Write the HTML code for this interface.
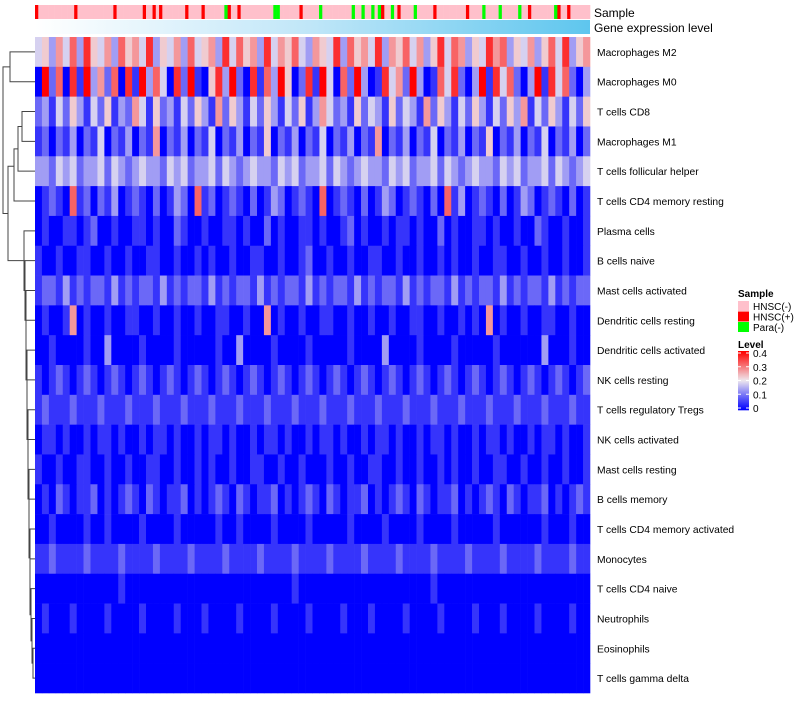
<!DOCTYPE html>
<html><head><meta charset="utf-8"><style>
body{margin:0;background:#fff;width:800px;height:700px;overflow:hidden;font-family:"Liberation Sans",sans-serif}
svg text{font-family:"Liberation Sans",sans-serif}
</style></head><body>
<svg id="c" width="800" height="700"></svg>
<script>
const rowNames=["Macrophages M2","Macrophages M0","T cells CD8","Macrophages M1","T cells follicular helper","T cells CD4 memory resting","Plasma cells","B cells naive","Mast cells activated","Dendritic cells resting","Dendritic cells activated","NK cells resting","T cells regulatory  Tregs","NK cells activated","Mast cells resting","B cells memory","T cells CD4 memory activated","Monocytes","T cells CD4 naive","Neutrophils","Eosinophils","T cells gamma delta"];
// digit d -> level d*0.045
const rowDigits=[
"45364738546375648354637456384756384657436548375648365746358476354867354635748356",
"09270819362708193740829105839208173950281940729301846293017482039184720391847203",
"23142531425132641523142531625314253142513642315243152431625314253142536142531425",
"12021302140213021602130214021302150213021402130216021302140213021502130214021302",
"33243423342432343324342334243234332434233424323433243423342432343324342334243234",
"01210712021301210201320712012102013201210701210201320121020713012102013201210201",
"01001101200100110100210010011010020100110100120100101101002010011010010021001001",
"10010011001001001100100101001001100100120010010011001001001010010011001001001001",
"12213121221312122131212213121221312122131212213121221312122131212213121221312122",
"01001601001001100100100100110010060100100110010010010011001001010601001001100100",
"00100001003000010000100000100300001000010000010000300001000010000010000003000100",
"10121012101210121012101210121012101210121012101210121012101210121012101210121012",
"12111211121112111211121112111211121112111211121112111211121112111211121112111211",
"01101001011010010110100101101001011010010110100101101001011010010110100101101001",
"10010011001001001100100101001001100100100010010011001001001010010011001001001001",
"01021011201012102101120101210210112010121021011201012102101120101210210112010121",
"00100001001000010000100000100100001000010000010000100001000010000010000001000100",
"11211112111121111211112111121111211112111121111211112111121111211112111121111211",
"00000000000010000000000000000000000001000000000000000000010000000000000000000000",
"01000100001000010000100010000100001000010000100010000100001000010001000010000100",
"00000000000000000000000000000000000000000000000000000000000000000000000000000000",
"00000000000000000000000000000000000000000000000000000000000000000000000000000000"];
// n=HNSC(-), p=HNSC(+), g=Para(-)
const sampleCodes="pnnnnnnnnnnnpnnnnnnnnnnnpnnnnnnnnpnnpnpnnnnnnnpnnnnpnnnnnngpnnpnnnnnnnnnnggnnnnnnpnnnnngnnnnnnnnngnngnngngpnngnpnnnngnnnnnpnnnnnnnnnpnnnngnnnngnnnnngnnpnnnnnnngpnnpnnnnnn";
const legendLevels=[0,0.1,0.2,0.3,0.4];
const sampleColors={n:"#FFC0CB",p:"#FF0000",g:"#00FF00"};
const NS="http://www.w3.org/2000/svg",svg=document.getElementById('c');
function el(t,a,p){const e=document.createElementNS(NS,t);for(const k in a)e.setAttribute(k,a[k]);(p||svg).appendChild(e);return e;}
const X0=35,X1=590,Y0=37,Y1=693,rowH=(Y1-Y0)/rowNames.length;
function lerp(a,b,t){return Math.round(a+(b-a)*t);}
function color(v){const t=Math.max(0,Math.min(1,v/0.4));
 if(t<0.5){const s=t/0.5;return `rgb(${lerp(0,238,s)},${lerp(0,232,s)},${lerp(255,238,s)})`;}
 const s=(t-0.5)/0.5;return `rgb(${lerp(238,255,s)},${lerp(232,0,s)},${lerp(238,0,s)})`;}
const xScale=(i,n)=>X0+(X1-X0)*i/n;
const yScale=r=>Y0+r*rowH;
// sample bar
const sg=el('g',{});
const sn=sampleCodes.length;
for(let i=0;i<sn;i++){const r=el('rect',{x:xScale(i,sn),y:5,width:(X1-X0)/sn+0.3,height:14,fill:sampleColors[sampleCodes[i]]},sg);}
// gene expression bar
const defs=el('defs',{});const lg=el('linearGradient',{id:'ge',x1:0,x2:1,y1:0,y2:0},defs);
el('stop',{offset:0,'stop-color':'#ffffff'},lg);el('stop',{offset:0.5,'stop-color':'#bfe6f8'},lg);el('stop',{offset:1,'stop-color':'#5ec6ee'},lg);
const gb=el('rect',{x:X0,y:20,width:X1-X0,height:14,fill:'url(#ge)'});
const t1=el('text',{x:594,y:17,'font-size':12});t1.textContent='Sample';
const t2=el('text',{x:594,y:32,'font-size':12});t2.textContent='Gene expression level';
// heatmap
rowNames.forEach((name,r)=>{
 const vals=rowDigits[r].split('').map(d=>+d*0.045);const n=vals.length;
 const g=el('g',{});
 vals.forEach((v,i)=>{const c=el('rect',{x:xScale(i,n),y:yScale(r),width:(X1-X0)/n+0.3,height:rowH+0.3,fill:color(v)},g);});
 const t=el('text',{x:597,y:yScale(r)+rowH/2+4,'font-size':10.3});t.textContent=name;
});
// dendrogram
const dg=el('g',{stroke:'#444','stroke-width':1,fill:'none'});
const cy=r=>yScale(r)+rowH/2;
function link(xa,ya,xb,yb,xm){el('path',{d:`M${xa},${ya}H${xm}V${yb}H${xb}`},dg);}
link(X0,cy(0),X0,cy(1),10);
link(X0,cy(2),X0,cy(3),22);
link(22,(cy(2)+cy(3))/2,X0,cy(4),18);
link(18,(cy(2)+cy(3)+2*cy(4))/4,X0,cy(5),14);
const top1=(cy(0)+cy(1))/2,top2=(cy(2)+cy(5))/2+10;
let prevX=33,prevY=(cy(20)+cy(21))/2;link(X0,cy(20),X0,cy(21),33);
const cas=[32,31,30,30,29,29,28,28,27,27,26,26,25,24,23];
for(let r=19,k=0;r>=6;r--,k++){const xm=cas[k];link(X0,cy(r),prevX,prevY,xm);prevY=(cy(r)+prevY)/2;prevX=xm;}
link(14,top2,prevX,prevY,8);
link(10,top1,8,(top2+prevY)/2,3);
// legend
const lgG=el('g',{});
const lt=el('text',{x:738,y:297,'font-size':10,'font-weight':'bold'},lgG);lt.textContent='Sample';
[['n','HNSC(-)'],['p','HNSC(+)'],['g','Para(-)']].forEach(([k,l],i)=>{
 const r=el('rect',{x:738,y:301+i*10.5,width:11,height:10,fill:sampleColors[k]},lgG);
 const t=el('text',{x:753,y:310+i*10.5,'font-size':10},lgG);t.textContent=l;});
const lv=el('text',{x:738,y:348,'font-size':10,'font-weight':'bold'},lgG);lv.textContent='Level';
const LB0=351,LB1=410;
for(let i=0;i<60;i++){const v=0.4*(1-i/59);el('rect',{x:738,y:LB0+i*(LB1-LB0)/60,width:11,height:1.3,fill:color(v)},lgG);}
legendLevels.forEach(v=>{const y=LB0+2+(1-v/0.4)*(LB1-LB0-4);el('line',{x1:738,x2:741,y1:y,y2:y,stroke:'#fff'},lgG);el('line',{x1:746,x2:749,y1:y,y2:y,stroke:'#fff'},lgG);
 const t=el('text',{x:753,y:y+4,'font-size':10},lgG);t.textContent=v===0?'0':v.toFixed(1);});
</script>
</body></html>
